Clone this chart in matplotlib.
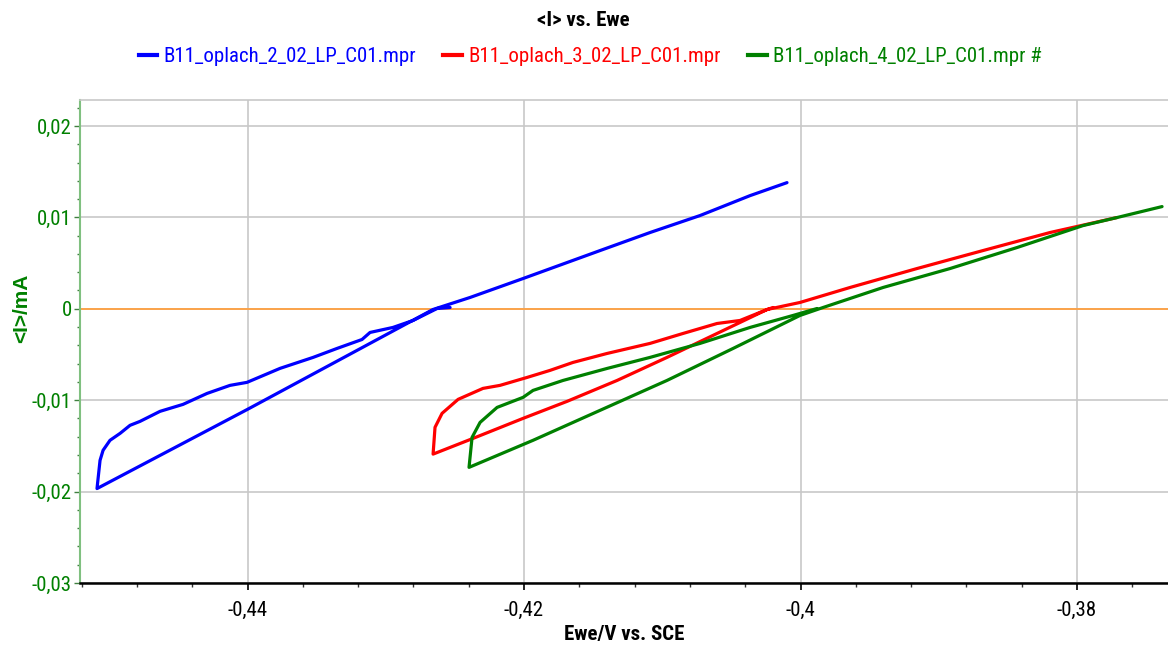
import matplotlib
matplotlib.use("Agg")
import matplotlib.pyplot as plt
from matplotlib.ticker import FixedLocator, FixedFormatter, MultipleLocator
from matplotlib.lines import Line2D
from matplotlib import font_manager

# ---- data: Ewe (V vs. SCE) and <I> (mA) for three scans ----
ewe_2 = [-0.42535, -0.42629, -0.42803, -0.42948, -0.43114, -0.43172, -0.43353,
         -0.43526, -0.43765, -0.44004, -0.44127, -0.44293, -0.44467, -0.44633,
         -0.44778, -0.44850, -0.44922, -0.44995, -0.45045, -0.45067, -0.45089,
         -0.44000, -0.42659, -0.42390, -0.42007, -0.41450, -0.41089, -0.40727,
         -0.40365, -0.40098]
i_2 = [0.00014, 0.00003, -0.00128, -0.00204, -0.00259, -0.00336, -0.00434,
       -0.00532, -0.00652, -0.00805, -0.00838, -0.00926, -0.01046, -0.01122,
       -0.01232, -0.01275, -0.01363, -0.01439, -0.01548, -0.01658, -0.01967,
       -0.01100, -0.00008, 0.00124, 0.00331, 0.00637, 0.00834, 0.01020,
       0.01238, 0.01380]

ewe_3 = [-0.40199, -0.40242, -0.40438, -0.40604, -0.40850, -0.41089, -0.41400,
         -0.41646, -0.41812, -0.41978, -0.42174, -0.42297, -0.42477, -0.42593,
         -0.42644, -0.42658,
         -0.42369, -0.42007, -0.41689, -0.41327, -0.40966, -0.40604, -0.40242,
         -0.40004, -0.39642, -0.39158, -0.38680, -0.38196, -0.37711]
i_3 = [0.00014, -0.00008, -0.00128, -0.00161, -0.00270, -0.00379, -0.00489,
       -0.00587, -0.00674, -0.00751, -0.00838, -0.00871, -0.00991, -0.01144,
       -0.01297, -0.01590,
       -0.01418, -0.01199, -0.01013, -0.00784, -0.00532, -0.00270, -0.00008,
       0.00069, 0.00233, 0.00440, 0.00637, 0.00834, 0.00998]

ewe_4 = [-0.39881, -0.40054, -0.40365, -0.40727, -0.41089, -0.41400, -0.41718,
         -0.41935, -0.42007, -0.42195, -0.42318, -0.42376, -0.42398,
         -0.41935, -0.41450, -0.40966, -0.40488, -0.40004, -0.39837, -0.39403,
         -0.38919, -0.38434, -0.37957, -0.37711, -0.37385]
i_4 = [0.00003, -0.00073, -0.00204, -0.00379, -0.00532, -0.00653, -0.00784,
       -0.00893, -0.00969, -0.01079, -0.01243, -0.01407, -0.01735,
       -0.01439, -0.01111, -0.00784, -0.00434, -0.00073, 0.00014, 0.00233,
       0.00440, 0.00670, 0.00910, 0.00998, 0.01118]

series_labels = ["B11_oplach_2_02_LP_C01.mpr", "B11_oplach_3_02_LP_C01.mpr",
                 "B11_oplach_4_02_LP_C01.mpr #"]
series_colors = ["#0000ff", "#ff0000", "#008000"]

x_ticks = [-0.44, -0.42, -0.40, -0.38]
x_tick_labels = ["-0,44", "-0,42", "-0,4", "-0,38"]
y_ticks = [0.02, 0.01, 0.0, -0.01, -0.02, -0.03]
y_tick_labels = ["0,02", "0,01", "0", "-0,01", "-0,02", "-0,03"]

# ---- fonts: prefer a condensed sans ----
installed = {f.name for f in font_manager.fontManager.ttflist}
condensed = [f for f in ["Liberation Sans Narrow", "DejaVu Sans Condensed",
                         "Roboto Condensed", "Open Sans Condensed"] if f in installed]
wide = [f for f in ["Liberation Sans", "DejaVu Sans"] if f in installed]
have_condensed = bool(condensed)
plt.rcParams["font.family"] = (condensed + wide) if have_condensed else wide
# a regular-width font needs a smaller size to take up the same room
fs = 15 if have_condensed else 12.5

fig = plt.figure(figsize=(11.68, 6.48), dpi=100)
ax = fig.add_axes([80 / 1168, 1 - 583 / 648, 1088 / 1168, 483 / 648])

ax.set_xlim(-0.45212, -0.37342)
ax.set_ylim(-0.03, 0.02284)

# grid
ax.xaxis.set_major_locator(FixedLocator(x_ticks))
ax.xaxis.set_major_formatter(FixedFormatter(x_tick_labels))
ax.xaxis.set_minor_locator(MultipleLocator(0.004))
ax.yaxis.set_major_locator(FixedLocator(y_ticks))
ax.yaxis.set_major_formatter(FixedFormatter(y_tick_labels))
ax.yaxis.set_minor_locator(MultipleLocator(0.002))
ax.grid(True, which="major", color="#c8c8c8", linewidth=1.2, zorder=0)
ax.set_axisbelow(True)

# zero line
ax.axhline(0, color="#ffa040", linewidth=1.3, zorder=1)

for xs, ys, c in zip([ewe_2, ewe_3, ewe_4], [i_2, i_3, i_4], series_colors):
    ax.plot(xs, ys, color=c, linewidth=2.3, solid_joinstyle="round",
            solid_capstyle="round", zorder=3)

# spines
ax.spines["right"].set_visible(False)
ax.spines["top"].set_color("#c8c8c8")
ax.spines["top"].set_linewidth(1.2)
ax.spines["left"].set_color("#80c080")
ax.spines["left"].set_linewidth(1.5)
ax.spines["bottom"].set_color("black")
ax.spines["bottom"].set_linewidth(1.8)

ax.tick_params(axis="x", which="major", direction="out", length=5, width=1.2,
               color="black", labelsize=fs, labelcolor="black", pad=8)
ax.tick_params(axis="x", which="minor", direction="out", length=3, width=1.0,
               color="#333333")
ax.tick_params(axis="y", which="major", direction="out", length=4, width=1.0,
               color="#408040", labelsize=fs, labelcolor="#008000", pad=2)
ax.tick_params(axis="y", which="minor", direction="out", length=2.5, width=1.0,
               color="#408040")

ax.set_xlabel("Ewe/V vs. SCE", fontsize=fs, fontweight="bold")
ax.xaxis.set_label_coords(0.5, -(625 - 583) / 483)
ax.set_ylabel("<I>/mA", fontsize=15, fontweight="bold", color="#008000",
              family=wide)
ax.yaxis.set_label_coords(-(80 - 31) / 1088, (583 - 308) / 483)

fig.text(583 / 1168, 1 - 20 / 648, "<I> vs. Ewe", ha="center", va="center",
         fontsize=fs, fontweight="bold")

handles = [Line2D([0], [0], color=c, linewidth=3) for c in series_colors]
leg = fig.legend(handles, series_labels, loc="center", ncol=3,
                 bbox_to_anchor=(590 / 1168, 1 - 57 / 648), frameon=False,
                 fontsize=fs, handlelength=0.9, handletextpad=0.3,
                 columnspacing=1.3, labelcolor="linecolor")

fig.savefig("out.png", dpi=100)
